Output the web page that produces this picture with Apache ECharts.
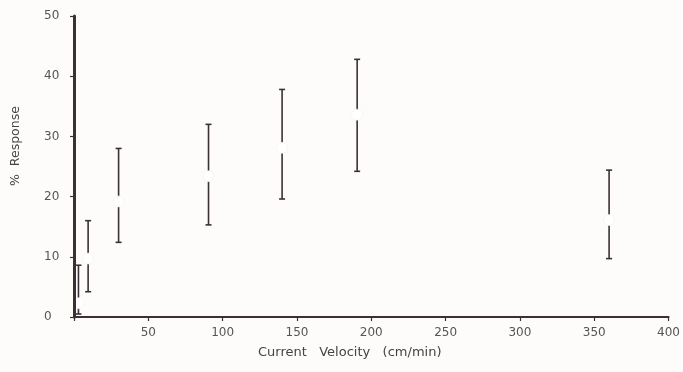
<!DOCTYPE html>
<html>
<head>
<meta charset="utf-8">
<script src="https://cdn.jsdelivr.net/npm/echarts@6/dist/echarts.min.js"></script>
<style>
  html, body { margin: 0; padding: 0; background: #fefcfa; }
  #chart { width: 683px; height: 372px; }
</style>
</head>
<body>
<div id="chart"></div>
<script>
const velocity = [3, 9.5, 30, 90.5, 140, 190.5, 360];
const response = [2.3, 9.7, 19.2, 23.4, 28.1, 33.6, 16.1];
const low = [0.5, 4.2, 12.4, 15.3, 19.6, 24.2, 9.7];
const high = [8.6, 16.0, 28.0, 32.0, 37.8, 42.8, 24.4];
const xTicks = [50, 100, 150, 200, 250, 300, 350, 400];

const ink = '#3b3035';
const chart = echarts.init(document.getElementById('chart'));

const barData = velocity.map((v, i) => [v, low[i], high[i]]);
const pointData = velocity.map((v, i) => [v, response[i]]);

chart.setOption({
  backgroundColor: '#fefcfa',
  animation: false,
  grid: { left: 74, right: 13, top: 16, bottom: 55 },
  graphic: [
    {
      type: 'text', left: 258, top: 346,
      style: { text: 'Current   Velocity   (cm/min)', fill: '#444', font: '13px "DejaVu Sans"' }
    },
    {
      type: 'text', x: 9, y: 186, rotation: Math.PI / 2,
      style: { text: '%  Response', fill: '#444', font: '12.5px "DejaVu Sans"' }
    }
  ],
  xAxis: {
    type: 'value',
    min: 0,
    max: 400,
    interval: 50,
    axisLine: { lineStyle: { color: ink, width: 2 } },
    axisTick: { show: true, length: 4, lineStyle: { color: ink, width: 1.2 } },
    axisLabel: {
      color: '#555', fontSize: 12, fontFamily: 'DejaVu Sans', margin: 10,
      formatter: v => (xTicks.includes(v) ? String(v) : '')
    },
    splitLine: { show: false }
  },
  yAxis: {
    type: 'value',
    min: 0,
    max: 50,
    interval: 10,
    axisLine: { show: true, lineStyle: { color: ink, width: 3 } },
    axisTick: { show: true, length: 4, lineStyle: { color: ink, width: 1.2 } },
    axisLabel: { color: '#555', fontSize: 12, fontFamily: 'DejaVu Sans', margin: 30, align: 'left' },
    splitLine: { show: false }
  },
  series: [
    {
      type: 'custom',
      data: barData,
      renderItem: (params, api) => {
        const x = api.value(0);
        const lo = api.coord([x, api.value(1)]);
        const hi = api.coord([x, api.value(2)]);
        const cap = 3;
        const style = { stroke: ink, lineWidth: 1.6 };
        return {
          type: 'group',
          children: [
            { type: 'line', shape: { x1: lo[0], y1: lo[1], x2: hi[0], y2: hi[1] }, style },
            { type: 'line', shape: { x1: hi[0] - cap, y1: hi[1], x2: hi[0] + cap, y2: hi[1] }, style },
            { type: 'line', shape: { x1: lo[0] - cap, y1: lo[1], x2: lo[0] + cap, y2: lo[1] }, style }
          ]
        };
      },
      z: -2
    },
    {
      type: 'scatter',
      data: pointData,
      symbol: 'circle',
      symbolSize: 11,
      itemStyle: { color: '#ffffff', borderColor: '#f1eeee', borderWidth: 0.6, opacity: 1 },
      z: -1
    }
  ]
});
</script>
</body>
</html>
